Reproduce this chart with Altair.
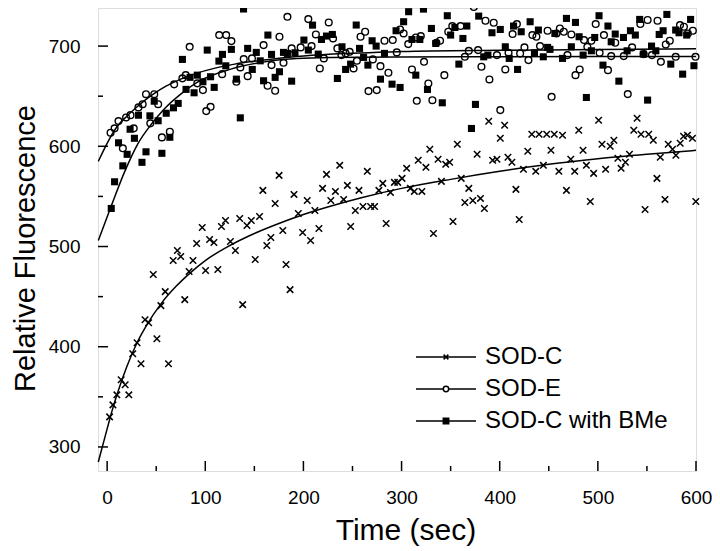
import altair as alt
import pandas as pd

SERIES = ["SOD-C", "SOD-E", "SOD-C with BMe"]
X_LABELS = [0, 100, 200, 300, 400, 500, 600]
X_MINOR = [50, 150, 250, 350, 450, 550]
Y_LABELS = [300, 400, 500, 600, 700]
Y_MINOR = [350, 450, 550, 650]

# SOD-C (crosses)
SODC_T = [2.5, 5.9, 9.9, 14.3, 18.4, 22.1, 26.1, 30.5, 34.5, 38.6, 42.3, 47, 50.7, 54.8, 59.2, 62.5, 67.3, 71.6, 75, 79.1,
          83.5, 87.5, 91.2, 96.9, 100.3, 104.4, 108.8, 112.8, 116.5, 120.6, 125.6, 130.7, 135.1, 138.1, 142.5, 146.9, 150.9, 155.3, 158.7, 162.7,
          166.8, 171.2, 175.2, 179, 182.3, 186.4, 190.4,
          194.8, 199.2, 203.9, 207.3, 211.7, 215.8, 219.5, 223.5, 227.9, 232.6, 237, 241, 244.8, 248.1, 252.9, 256.6, 260.7, 265.1, 268.5, 272.5,
          276.9, 280.9, 284.3, 288.7, 292.7, 296.1, 300.5, 305.2, 309, 313, 317, 320.7, 324.8, 328.8, 332.5, 337.2, 340.6, 345, 349, 352.4,
          356.8, 360.8, 364.5, 368.5, 372.6, 377, 380.4, 384.4, 388.8, 392.8,
          397.2, 400.6, 405, 408.4, 412.4, 416.5, 419.9, 424.2, 428.6, 432.7, 436.7, 440.1, 444.5, 447.9, 452.2, 455.6, 460.3, 464, 468, 472.4,
          476.4, 480.5, 484.9, 488.3, 492.3, 495.7, 500.8, 504.2, 507.9, 512.6, 516.3, 520.4, 523.7, 528.1, 532.2, 536.6, 540, 544, 548.1, 551.8,
          556.5, 560.2, 563.6, 568.4, 571.7, 576.1, 579.5, 583.9, 587.3, 591.3, 596.4, 599.8]
SODC_V = [330, 342, 352, 367, 362, 352, 393, 404, 383, 427, 424, 472, 408, 441, 455, 383, 486, 496, 490, 447,
          475, 486, 503, 519, 476, 507, 504, 477, 520, 526, 505, 496, 528, 442, 521, 526, 487, 530, 556, 501,
          509, 543, 571, 516, 482, 457, 552,
          533, 514, 546, 506, 536, 518, 558, 572, 546, 555, 581, 547, 561, 520, 536, 556, 540, 575, 540, 540,
          556, 563, 523, 554, 564, 564, 568, 578, 558, 555, 586, 555, 579, 597, 513, 587, 565, 582, 584, 525,
          602, 568, 544, 558, 546, 592, 548, 538, 625, 586,
          587, 608, 621, 589, 584, 557, 527, 577, 595, 612, 575, 612, 581, 612, 596, 612, 575, 611, 556, 587,
          575, 616, 596, 581, 545, 573, 626, 602, 577, 600, 606, 588, 578, 584, 592, 616, 628, 612, 537, 612,
          606, 568, 589, 547, 602, 597, 591, 603, 610, 611, 608, 545]

# SOD-E (open circles)
SODE_T = [3.5, 7.6, 11.6, 16, 19.3, 23.8, 27.1, 31.9, 36.2, 39.6, 44, 48, 52, 55.8, 63.9, 68.3, 76.7, 80.1, 84.1, 91.9,
          97.6, 101, 105.4, 114.2, 117.2, 121.3, 126.6, 131.7, 135.7, 139.2, 143.2, 147.6, 159.4, 163.5, 167.5, 171.2, 175.6, 179.7, 183.7, 188,
          197.2, 205, 208.3, 212.7, 216.7, 220.8, 225.8, 230.2, 234.6, 238.7, 243, 247.1, 251.1, 254.5, 258.2, 262.9, 266.3, 270.7, 274.7, 278.5,
          282.6, 286.6, 291, 295.1, 298.5, 302.1, 306.8, 310.6, 314.5, 315.5, 319.6, 322.9, 327.3, 331.4, 335.5, 339.2, 343.6, 347.6, 351.7, 360.1,
          364.5, 368.5, 373.6, 378, 381.4, 385.5, 389.5, 393.9,
          397.2, 400.6, 405.7, 409, 413.1, 417.5, 420.8, 425.2, 429.3, 433.3, 437.4, 441.1, 448.8, 452.9, 457.9, 461.3, 465.3, 469, 473, 477.2,
          481.5, 485.9, 489.3, 493.4, 497.8, 501.8, 506.2, 510.3, 513.6, 517.7, 526.4, 530.5, 534.9, 543.3, 546.7, 550.7, 555.1, 560.8, 564.2, 569.2,
          573.3, 579.3, 583.7, 587.7, 591.7, 596.8, 599.5]
SODE_V = [613.5, 617.9, 625.2, 598, 628.8, 631.1, 617.9, 638.8, 642, 652, 622.9, 652, 642, 608.9, 614.5, 661.8, 667.8, 671, 699.3, 662.8,
          656.1, 635.1, 639.4, 711, 672, 711, 705, 664.4, 678.7, 687, 670, 687.7, 701, 660.4, 681, 655.4, 709.3, 683.3, 729.2, 697.7,
          698.7, 726.9, 700, 711.6, 677.7, 687.7, 723.6, 707.6, 697.7, 691, 692.7, 694.3, 677.7, 685.3, 709.3, 714.3, 655.1, 686.7, 656.1, 680,
          705.3, 673.4, 706, 693.7, 716.6, 712.6, 702, 676.7, 708.6, 645.4, 710, 684.3, 662.7, 646, 703.3, 705.3, 671, 714.3, 720, 720,
          689.3, 695.3, 739, 696, 679.4, 725.3, 666.7, 723.3,
          691, 636.1, 676.7, 693.3, 712, 722, 692.7, 698.7, 686, 711, 709.3, 700, 715.3, 649.4, 712.6, 717.6, 714.3, 691, 711.6, 671,
          676.7, 706, 699.3, 705.3, 722, 693.3, 711, 676, 690, 703.3, 690, 652.1, 698.7, 722, 692, 726, 691, 725.3, 684.3, 701.6,
          705.3, 689.3, 721, 719.3, 712.6, 715.3, 689.3]

# SOD-C with BMe (filled squares)
BME_T = [4.2, 7.6, 11.6, 16, 20.4, 23.4, 27.8, 31.9, 35.5, 39.6, 43.6, 48, 52, 55.8, 60.2, 63.9, 67.6, 72.4, 76.7, 80.4,
         84.5, 88.6, 91.9, 97.6, 102, 105.4, 109.1, 113.9, 117.5, 120.9, 126.6, 131.7, 135.7, 139, 143.2, 147.9, 152, 156, 159.4, 163.8,
         167.5, 171.2, 175.6, 179.7, 183.7, 188, 191.4,
         200.5, 205, 209.3, 215.1, 218.4, 223.5, 229.5, 234.6, 239.3, 243, 248.1, 253.8, 257.2, 261.3, 265.7, 270, 274.1, 278.5, 282.6, 290.3,
         294.4, 298.5, 302.1, 307.2, 310.6, 314.5, 318.6, 322.3, 326.4, 330.4, 334.8, 341.5, 346.6, 350, 354.3, 358.4, 362.5, 366.5, 371.2, 375.3,
         378.6, 383.7, 388, 392.1,
         400.6, 405.7, 409.7, 414.1, 418.2, 421.9, 431, 435.4, 439.4, 444.4, 448.8, 451.2, 456.2, 464, 468, 473, 477.2, 480.9, 485, 488.3,
         493.4, 496.8, 501.2, 505.2, 510.3, 513.6, 517.7, 521.4, 526.1, 529.8, 533.2, 538.2, 542.6, 546.3, 550.7, 554.7, 559.1, 562.5, 566.5, 570.3,
         574.3, 579.3, 582.7, 586.4, 590.5, 594.5, 597.9]
BME_V = [538, 564.6, 603.5, 580.5, 592, 617, 608, 631, 584, 594.5, 630.4, 645, 625.5, 593, 633, 609, 638.4, 642.8, 686.7, 656.8,
         668.8, 653.4, 671, 664.4, 696, 669.4, 658.8, 685, 691.7, 680.3, 696.7, 667, 628.4, 737, 697.7, 676.7, 693.7, 685.3, 665.4, 711,
         691.7, 668.8, 674.4, 693.7, 692.7, 665, 693.3,
         706, 696, 720.9, 692, 706.6, 710, 711.6, 667.7, 699.3, 676.7, 682, 721, 697.7, 688.7, 681, 705.3, 700, 667, 692.7, 662,
         715.3, 658.7, 724.3, 734.3, 706.6, 671, 706.6, 736.9, 656.7, 717.6, 702.6, 643.4, 730.3, 711, 718.6, 682, 707.6, 720, 617.8, 641.8,
         729.9, 689.3, 691, 713.3,
         716.6, 699.3, 687.7, 720, 676.7, 714.3, 724.3, 693.3, 716, 689.3, 698.7, 696.7, 712.6, 687.7, 727.6, 699.3, 723.6, 709.3, 691, 648.7,
         695.3, 708.6, 730.3, 681, 720, 704.3, 712, 665, 708.6, 695.3, 715.3, 711, 726.6, 692, 646.1, 700, 695.3, 711.6, 715.3, 731.6,
         682, 716, 713.3, 672, 711, 726.6, 680.4]

# fitted curves
CURVE_C_T = [-9, 0, 5, 10, 20, 30, 40, 55, 70, 85, 100, 125, 150, 175, 200, 230, 260, 300, 350, 400, 450, 500, 550, 600]
CURVE_C_V = [285, 318, 336, 352, 380, 403, 421, 443, 460, 474, 486, 501, 513, 523, 532, 541, 549, 558, 567, 575, 582, 587.5, 592, 596]
CURVE_E_T = [-9, 0, 5, 10, 20, 30, 40, 50, 60, 75, 90, 110, 130, 160, 193, 230, 300, 400, 500, 600]
CURVE_E_V = [585, 603, 612, 619.5, 630, 639, 647, 654, 660, 667, 672.5, 678, 682, 686, 689.5, 692, 694.5, 695.8, 696.6, 697.3]
CURVE_B_T = [-9, 4, 18, 31, 45, 58, 75, 92, 126, 159, 193, 227, 300, 400, 600]
CURVE_B_V = [506, 540, 575, 602, 622, 637, 652, 664, 677, 684, 687.5, 688.7, 689.2, 689.4, 689.6]

FONT = "Liberation Sans"
CROSS = "M-1,-1L1,1M-1,1L1,-1"
LEGEND_PATHS = [
    "M-1,0H1M-0.08,-0.08L0.08,0.08M-0.08,0.08L0.08,-0.08",
    "M-1,0H-0.09M0.09,0H1M0.09,0A0.09,0.09 0 1,1 -0.09,0A0.09,0.09 0 1,1 0.09,0Z",
    "M-1,0H1M-0.09,-0.09H0.09V0.09H-0.09Z",
]


def rows(ts, vs, name):
    return [{"t": t, "v": v, "series": name} for t, v in zip(ts, vs)]


pts_c = pd.DataFrame(rows(SODC_T, SODC_V, SERIES[0]))
pts_e = pd.DataFrame(rows(SODE_T, SODE_V, SERIES[1]))
pts_b = pd.DataFrame(rows(BME_T, BME_V, SERIES[2]))
curves = pd.DataFrame(rows(CURVE_C_T, CURVE_C_V, SERIES[0]) + rows(CURVE_E_T, CURVE_E_V, SERIES[1])
                      + rows(CURVE_B_T, CURVE_B_V, SERIES[2]))

x_scale = alt.Scale(domain=[-9.3, 600], nice=False, zero=False)
y_scale = alt.Scale(domain=[276, 738], nice=False, zero=False)

x_axis = alt.Axis(values=X_LABELS, title="Time (sec)", ticks=False, tickSize=0, domain=False, grid=False,
                  labelFlush=False, labelOverlap=False, labelFontSize=19, labelPadding=17, labelColor="black",
                  labelFont=FONT, titleFont=FONT, titleFontSize=30, titleFontWeight="normal", titleColor="black",
                  titleX=307.5, titleY=68, titleBaseline="alphabetic")
y_axis = alt.Axis(values=Y_LABELS, title="Relative Fluorescence", ticks=False, tickSize=0, domain=False, grid=False,
                  labelOverlap=False, labelFontSize=19, labelPadding=18, labelColor="black",
                  labelFont=FONT, titleFont=FONT, titleFontSize=29, titleFontWeight="normal", titleColor="black",
                  titleX=-64, titleY=240, titleAngle=270, titleBaseline="alphabetic")

X = alt.X("t:Q", scale=x_scale, axis=x_axis)
Y = alt.Y("v:Q", scale=y_scale, axis=y_axis)

layer_c = alt.Chart(pts_c).mark_point(shape=CROSS, size=42, filled=False, strokeWidth=1.5,
                                      color="black", opacity=1).encode(x=X, y=Y)
layer_e = alt.Chart(pts_e).mark_point(shape="circle", size=45, filled=False, strokeWidth=1.4,
                                      color="black", opacity=1).encode(x=X, y=Y)
layer_b = alt.Chart(pts_b).mark_point(shape="square", size=50, filled=True,
                                      color="black", opacity=1).encode(x=X, y=Y)

curve_layer = alt.Chart(curves).mark_line(color="black", strokeWidth=1.5, interpolate="monotone").encode(
    x=X, y=Y, detail="series:N")

tick_style = dict(color="black", strokeWidth=1.5)
xmaj = alt.Chart(pd.DataFrame({"t": X_LABELS})).mark_rule(**tick_style).encode(
    x=X, y=alt.value(463), y2=alt.value(453))
xmin = alt.Chart(pd.DataFrame({"t": X_MINOR})).mark_rule(**tick_style).encode(
    x=X, y=alt.value(463), y2=alt.value(458))
ymaj = alt.Chart(pd.DataFrame({"v": Y_LABELS})).mark_rule(**tick_style).encode(
    y=Y, x=alt.value(0), x2=alt.value(10))
ymin = alt.Chart(pd.DataFrame({"v": Y_MINOR})).mark_rule(**tick_style).encode(
    y=Y, x=alt.value(0), x2=alt.value(5))

legend = alt.Legend(title=None, orient="none", legendX=317, legendY=333, padding=0, symbolSize=3600,
                    symbolStrokeWidth=1.5, clipHeight=32, rowPadding=0, labelFont=FONT, labelFontSize=24,
                    labelColor="black", labelOffset=8, labelBaseline="middle", labelLimit=400)
legend_layer = alt.Chart(curves).transform_filter("false").mark_point(
    opacity=1, strokeWidth=1.5, filled=False).encode(
    x=X, y=Y,
    shape=alt.Shape("series:N", scale=alt.Scale(domain=SERIES, range=LEGEND_PATHS), legend=legend),
    fill=alt.Fill("series:N", scale=alt.Scale(domain=SERIES, range=["transparent", "white", "black"]), legend=legend),
    stroke=alt.Stroke("series:N", scale=alt.Scale(domain=SERIES, range=["black", "black", "black"]), legend=legend),
)

chart = alt.layer(layer_c, layer_e, layer_b, curve_layer, xmaj, xmin, ymaj, ymin, legend_layer).properties(
    width=598, height=463,
    autosize=alt.AutoSizeParams(type="none"),
    padding={"left": 90, "top": 0, "right": 16, "bottom": 80},
    background="white",
).configure_view(stroke="black", strokeWidth=1.5).configure(font=FONT)

chart.save("out.html", embed_options={"renderer": "svg", "actions": False})
